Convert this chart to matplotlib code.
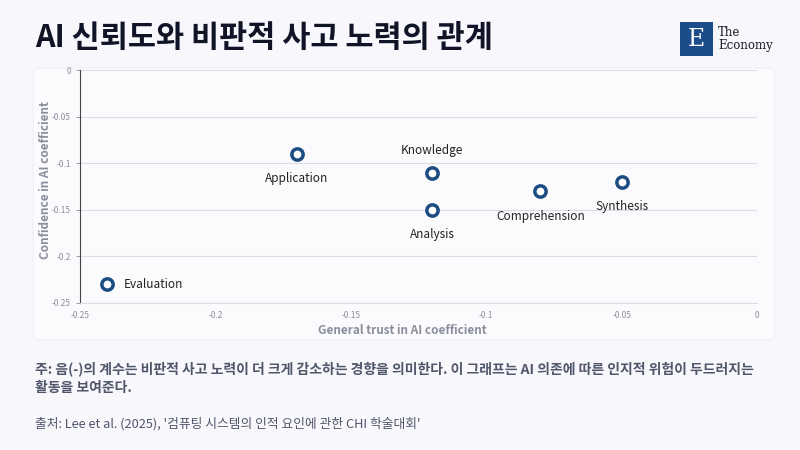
import matplotlib.pyplot as plt
from matplotlib.patches import FancyBboxPatch, Rectangle

plt.rcParams['font.family'] = ['Noto Sans CJK KR', 'DejaVu Sans']

activities = ['Evaluation', 'Application', 'Knowledge', 'Analysis', 'Comprehension', 'Synthesis']
trust = [-0.24, -0.17, -0.12, -0.12, -0.08, -0.05]
confidence = [-0.23, -0.09, -0.11, -0.15, -0.13, -0.12]
label_pos = ['right', 'below', 'above', 'below', 'below', 'below']

xticks = [-0.25, -0.2, -0.15, -0.1, -0.05, 0]
yticks = [0, -0.05, -0.1, -0.15, -0.2, -0.25]

bg = '#f7f7fc'
fig = plt.figure(figsize=(8, 4.5), dpi=100, facecolor=bg)

# panel behind the chart
panel = FancyBboxPatch((33 / 800, 1 - 340 / 450), 742 / 800, 272 / 450,
                       boxstyle='round,pad=0,rounding_size=0.012',
                       transform=fig.transFigure, facecolor='#fbfbfe',
                       edgecolor='#efeff5', linewidth=0.8, zorder=-5)
fig.patches.append(panel)

ax = fig.add_axes([80 / 800, 1 - 303 / 450, 677 / 800, 233 / 450], zorder=2)
ax.set_facecolor('none')
ax.scatter(trust, confidence, s=66, facecolor='white', edgecolor='#1b4c82',
           linewidth=2.5, zorder=3, clip_on=False)

for name, x, y, pos in zip(activities, trust, confidence, label_pos):
    if pos == 'right':
        ax.annotate(name, (x, y), xytext=(12, 0), textcoords='offset points',
                    ha='left', va='center', fontsize=8.5, color='#222222')
    elif pos == 'above':
        ax.annotate(name, (x, y), xytext=(0, 16), textcoords='offset points',
                    ha='center', va='center', fontsize=8.5, color='#222222')
    else:
        ax.annotate(name, (x, y), xytext=(0, -18), textcoords='offset points',
                    ha='center', va='center', fontsize=8.5, color='#222222')

ax.set_xlim(-0.25, 0)
ax.set_ylim(-0.25, 0)
ax.set_xticks(xticks)
ax.set_xticklabels([str(t) for t in xticks])
ax.set_yticks(yticks)
ax.set_yticklabels([str(t) for t in yticks])
ax.tick_params(axis='both', labelsize=6, colors='#8a8fa0', length=3, width=0.6)
ax.tick_params(axis='x', length=0, pad=6)
ax.grid(axis='y', color='#dcdce4', linewidth=0.8)
ax.set_axisbelow(True)
for s in ['top', 'right']:
    ax.spines[s].set_visible(False)
ax.spines['bottom'].set_color('#dcdce4')
ax.spines['bottom'].set_linewidth(0.8)
ax.spines['left'].set_color('#444444')
ax.spines['left'].set_linewidth(0.8)

fig.text(402 / 800, 1 - 330 / 450, 'General trust in AI coefficient', ha='center', va='center',
         fontsize=8.5, fontweight='bold', color='#8a8e9c')
fig.text(46 / 800, 1 - 180 / 450, 'Confidence in AI coefficient', ha='center', va='center',
         rotation=90, fontsize=8.5, fontweight='bold', color='#8a8e9c')

fig.text(35 / 800, 1 - 38 / 450, 'AI 신뢰도와 비판적 사고 노력의 관계', ha='left', va='center',
         fontsize=22, fontweight='bold', color='#101426')

# logo
fig.patches.append(Rectangle((680 / 800, 1 - 56 / 450), 33 / 800, 34 / 450,
                             transform=fig.transFigure, facecolor='#1c4c8a', edgecolor='none'))
fig.text(696 / 800, 1 - 40 / 450, 'E', ha='center', va='center', fontsize=17,
         color='white', family='DejaVu Serif')
fig.text(718 / 800, 1 - 32 / 450, 'The', ha='left', va='center', fontsize=8.5,
         color='#1a1a2a', family='DejaVu Serif')
fig.text(718 / 800, 1 - 46 / 450, 'Economy', ha='left', va='center', fontsize=8.5,
         color='#1a1a2a', family='DejaVu Serif')

fig.text(35 / 800, 1 - 369 / 450,
         '주: 음(-)의 계수는 비판적 사고 노력이 더 크게 감소하는 경향을 의미한다. 이 그래프는 AI 의존에 따른 인지적 위험이 두드러지는',
         ha='left', va='center', fontsize=10, fontweight='bold', color='#50566a')
fig.text(35 / 800, 1 - 388 / 450, '활동을 보여준다.', ha='left', va='center',
         fontsize=10, fontweight='bold', color='#50566a')
fig.text(35 / 800, 1 - 424 / 450, "출처: Lee et al. (2025), '컴퓨팅 시스템의 인적 요인에 관한 CHI 학술대회'",
         ha='left', va='center', fontsize=9.2, fontweight='medium', color='#50566a')

fig.savefig('out.png', dpi=100, facecolor=bg)
